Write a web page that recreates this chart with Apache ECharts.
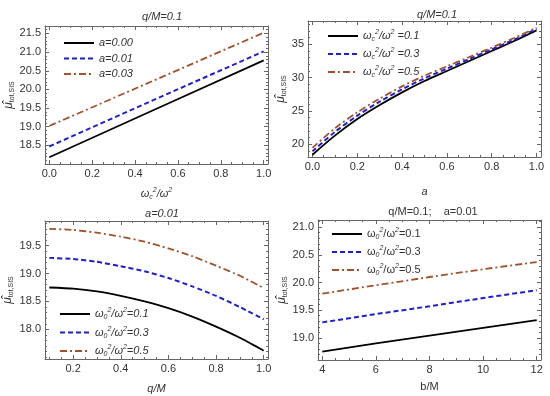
<!DOCTYPE html>
<html><head><meta charset="utf-8">
<script src="https://cdn.jsdelivr.net/npm/echarts@6/dist/echarts.min.js"></script>
<style>html,body{margin:0;padding:0;background:#fff}#c{width:550px;height:396px}</style>
</head><body><div id="c"></div>
<script>
// ---- Panel 1 (q/M=0.1), x = omega_c^2/omega^2
const p1X = [0, 0.5, 1.0];
const p1A000 = [18.18, 19.48, 20.78];
const p1A001 = [18.47, 19.75, 21.02];
const p1A003 = [19.02, 20.27, 21.52];
const p1XTicks = [0, 0.2, 0.4, 0.6, 0.8, 1.0];
const p1YTicks = [18.5, 19.0, 19.5, 20.0, 20.5, 21.0, 21.5];
// ---- Panel 2 (q/M=0.1), x = a
const p2X = [0, 0.1, 0.2, 0.3, 0.4, 0.5, 0.6, 0.7, 0.8, 0.9, 1.0];
const p2W01 = [18.44, 21.3, 23.8, 25.9, 27.8, 29.5, 31.0, 32.5, 34.0, 35.5, 37.1];
const p2W03 = [18.96, 21.85, 24.3, 26.4, 28.25, 29.9, 31.35, 32.8, 34.25, 35.7, 37.3];
const p2W05 = [19.48, 22.4, 24.8, 26.85, 28.7, 30.3, 31.7, 33.1, 34.5, 35.95, 37.5];
const p2XTicks = [0, 0.2, 0.4, 0.6, 0.8, 1.0];
const p2YTicks = [20, 25, 30, 35];
// ---- Panel 3 (a=0.01), x = q/M
const p3X = [0.1, 0.2, 0.3, 0.4, 0.5, 0.6, 0.7, 0.8, 0.9, 1.0];
const p3W01 = [18.75, 18.73, 18.68, 18.60, 18.50, 18.38, 18.23, 18.05, 17.85, 17.62];
const p3W03 = [19.28, 19.26, 19.21, 19.13, 19.04, 18.92, 18.77, 18.60, 18.40, 18.18];
const p3W05 = [19.80, 19.78, 19.73, 19.66, 19.57, 19.45, 19.31, 19.14, 18.96, 18.74];
const p3XTicks = [0.2, 0.4, 0.6, 0.8, 1.0];
const p3YTicks = [18.0, 18.5, 19.0, 19.5];
// ---- Panel 4 (q/M=0.1; a=0.01), x = b/M
const p4X = [4, 6, 8, 10, 12];
const p4W01 = [18.75, 18.90, 19.04, 19.18, 19.32];
const p4W03 = [19.28, 19.43, 19.57, 19.72, 19.86];
const p4W05 = [19.80, 19.95, 20.10, 20.24, 20.37];
const p4XTicks = [4, 6, 8, 10, 12];
const p4YTicks = [19.0, 19.5, 20.0, 20.5, 21.0];

const FONT = "'Liberation Sans Narrow','Liberation Sans',sans-serif";
const FRAME = '#666';
const TXT = '#333';

function range(a, b, step) { const r = []; for (let v = a; v <= b + 1e-9; v += step) r.push(+v.toFixed(4)); return r; }

const grids = [
  {left: 45, top: 26, width: 223, height: 138},
  {left: 308, top: 21, width: 233, height: 136},
  {left: 45, top: 221, width: 223, height: 138},
  {left: 318, top: 220, width: 223, height: 140}
];
const cfg = [
  {x: [-0.02, 1.02], y: [18.0, 21.7], xt: p1XTicks, xm: range(0, 1.0, 0.05), yt: p1YTicks, ym: range(18.1, 21.6, 0.1), xf: 1, yf: 1,
   xName: '{i|ω}{sub|c}{sup|2}{i|/ω}{sup|2}', xGap: 23, yGap: 27},
  {x: [-0.02, 1.02], y: [18.1, 38.5], xt: p2XTicks, xm: range(0, 1.0, 0.05), yt: p2YTicks, ym: range(19, 38, 1), xf: 1, yf: 0,
   xName: '{i|a}', xGap: 29, yGap: 18},
  {x: [0.082, 1.018], y: [17.47, 19.94], xt: p3XTicks, xm: range(0.1, 1.0, 0.05), yt: p3YTicks, ym: range(17.5, 19.9, 0.1), xf: 1, yf: 1,
   xName: '{i|q/M}', xGap: 24, yGap: 30},
  {x: [3.84, 12.16], y: [18.6, 21.13], xt: p4XTicks, xm: range(4, 12, 0.5), yt: p4YTicks, ym: range(18.7, 21.1, 0.1), xf: 0, yf: 1,
   xName: '{n|b/M}', xGap: 21, yGap: 22}
];

const richCommon = {
  i: {fontStyle: 'italic', fontSize: 11, color: TXT, fontFamily: FONT},
  n: {fontSize: 11, color: TXT, fontFamily: FONT},
  sub: {fontStyle: 'italic', fontSize: 7, color: TXT, verticalAlign: 'bottom', fontFamily: FONT, lineHeight: 14},
  sup: {fontStyle: 'italic', fontSize: 7, color: TXT, verticalAlign: 'top', fontFamily: FONT, lineHeight: 14},
  m: {fontStyle: 'italic', fontSize: 12, color: TXT, fontFamily: FONT},
  s: {fontSize: 7, color: TXT, fontFamily: FONT, verticalAlign: 'bottom', lineHeight: 15}
};

const xAxis = [], yAxis = [];
cfg.forEach((c, g) => {
  const base = {type: 'value', gridIndex: g, splitLine: {show: false}, scale: true};
  const xb = Object.assign({}, base, {min: c.x[0], max: c.x[1]});
  const yb = Object.assign({}, base, {min: c.y[0], max: c.y[1]});
  const line = {show: true, onZero: false, lineStyle: {color: FRAME, width: 1}};
  const noLine = {show: false, onZero: false};
  ['bottom', 'top'].forEach(pos => {
    xAxis.push(Object.assign({}, xb, {position: pos, axisLine: line,
      axisTick: {show: true, inside: true, length: 4, customValues: c.xt, lineStyle: {color: FRAME}},
      axisLabel: pos === 'bottom' ? {show: true, customValues: c.xt, formatter: v => (+v).toFixed(c.xf), margin: 4, fontSize: 11, color: TXT, fontFamily: FONT} : {show: false},
      name: pos === 'bottom' ? c.xName : '', nameLocation: 'middle', nameGap: c.xGap,
      nameTextStyle: {rich: richCommon}
    }));
    xAxis.push(Object.assign({}, xb, {position: pos, axisLine: noLine,
      axisTick: {show: true, inside: true, length: 2, customValues: c.xm, lineStyle: {color: FRAME}},
      axisLabel: {show: false}}));
  });
  ['left', 'right'].forEach(pos => {
    yAxis.push(Object.assign({}, yb, {position: pos, axisLine: line,
      axisTick: {show: true, inside: true, length: 4, customValues: c.yt, lineStyle: {color: FRAME}},
      axisLabel: pos === 'left' ? {show: true, customValues: c.yt, formatter: v => (+v).toFixed(c.yf), margin: 4, fontSize: 11, color: TXT, fontFamily: FONT} : {show: false},
      name: pos === 'left' ? '{m|μ̂}{s|tot,SIS}' : '', nameLocation: 'middle', nameGap: c.yGap, nameRotate: 90,
      nameTextStyle: {rich: richCommon}
    }));
    yAxis.push(Object.assign({}, yb, {position: pos, axisLine: noLine,
      axisTick: {show: true, inside: true, length: 2, customValues: c.ym, lineStyle: {color: FRAME}},
      axisLabel: {show: false}}));
  });
});

const STY = {
  black: {color: '#000', width: 1.8, type: 'solid'},
  blue: {color: '#1f1fcc', width: 2, type: [5, 3]},
  brown: {color: '#a0522d', width: 1.8, type: [7, 3, 2, 3]}
};
const series = [];
function add(g, name, xs, ys, sty) {
  series.push({type: 'line', name: name, xAxisIndex: g * 4, yAxisIndex: g * 4, symbol: 'none', legendIcon: 'none',
    smooth: g === 1 ? 0.3 : (g === 2 ? 0.2 : false),
    data: xs.map((x, i) => [x, ys[i]]), lineStyle: sty, itemStyle: {color: sty.color}, silent: true, animation: false});
}
add(0, 'p1a0', p1X, p1A000, STY.black);
add(0, 'p1a1', p1X, p1A001, STY.blue);
add(0, 'p1a3', p1X, p1A003, STY.brown);
add(1, 'p2w1', p2X, p2W01, STY.black);
add(1, 'p2w3', p2X, p2W03, STY.blue);
add(1, 'p2w5', p2X, p2W05, STY.brown);
add(2, 'p3w1', p3X, p3W01, STY.black);
add(2, 'p3w3', p3X, p3W03, STY.blue);
add(2, 'p3w5', p3X, p3W05, STY.brown);
add(3, 'p4w1', p4X, p4W01, STY.black);
add(3, 'p4w3', p4X, p4W03, STY.blue);
add(3, 'p4w5', p4X, p4W05, STY.brown);

const legendText = {
  p1a0: '{i|a=0.00}', p1a1: '{i|a=0.01}', p1a3: '{i|a=0.03}',
  p2w1: '{i|ω}{sub|c}{sup|2}{i|/ω}{sup|2}{i| =0.1}', p2w3: '{i|ω}{sub|c}{sup|2}{i|/ω}{sup|2}{i| =0.3}', p2w5: '{i|ω}{sub|c}{sup|2}{i|/ω}{sup|2}{i| =0.5}',
  p3w1: '{i|ω}{sub|0}{sup|2}{i|/ω}{sup|2}{i|=0.1}', p3w3: '{i|ω}{sub|0}{sup|2}{i|/ω}{sup|2}{i|=0.3}', p3w5: '{i|ω}{sub|0}{sup|2}{i|/ω}{sup|2}{i|=0.5}',
  p4w1: '{n|ω}{sub|0}{sup|2}{n|/ω}{sup|2}{n|=0.1}', p4w3: '{n|ω}{sub|0}{sup|2}{n|/ω}{sup|2}{n|=0.3}', p4w5: '{n|ω}{sub|0}{sup|2}{n|/ω}{sup|2}{n|=0.5}'
};
function legend(names, left, top, gap) {
  return {data: names, orient: 'vertical', left: left, top: top, itemWidth: 30, itemHeight: 10, itemGap: gap,
    selectedMode: false, formatter: n => legendText[n],
    itemStyle: {opacity: 0},
    textStyle: {rich: richCommon, fontSize: 11, lineHeight: 14}};
}

const option = {
  animation: false,
  backgroundColor: '#fff',
  grid: grids,
  xAxis: xAxis,
  yAxis: yAxis,
  series: series,
  legend: [
    legend(['p1a0', 'p1a1', 'p1a3'], 58, 31, 1.5),
    legend(['p2w1', 'p2w3', 'p2w5'], 322, 24, 4),
    legend(['p3w1', 'p3w3', 'p3w5'], 54, 302, 4.5),
    legend(['p4w1', 'p4w3', 'p4w5'], 326, 222, 4)
  ],
  title: [
    {text: 'q/M=0.1', left: 157, top: 6, textAlign: 'center', textStyle: {fontSize: 11, fontWeight: 'normal', fontStyle: 'italic', color: TXT, fontFamily: FONT}},
    {text: 'q/M=0.1', left: 432, top: 4, textAlign: 'center', textStyle: {fontSize: 11, fontWeight: 'normal', fontStyle: 'italic', color: TXT, fontFamily: FONT}},
    {text: 'a=0.01', left: 157, top: 203, textAlign: 'center', textStyle: {fontSize: 11, fontWeight: 'normal', fontStyle: 'italic', color: TXT, fontFamily: FONT}},
    {text: 'q/M=0.1;    a=0.01', left: 428, top: 201, textAlign: 'center', textStyle: {fontSize: 11, fontWeight: 'normal', color: TXT, fontFamily: FONT}}
  ]
};
const chart = echarts.init(document.getElementById('c'), null, {renderer: 'canvas'});
chart.setOption(option);
</script></body></html>
